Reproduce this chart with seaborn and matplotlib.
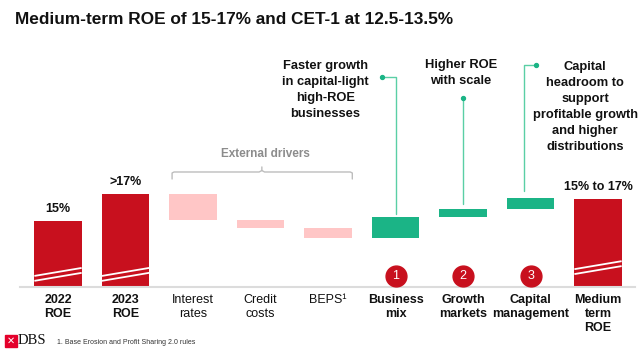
import numpy as np
import pandas as pd
import matplotlib
matplotlib.use('Agg')
import matplotlib.pyplot as plt
import seaborn as sns
from matplotlib.patches import Rectangle

# Chart data (ROE, %)
categories = ["2022\nROE", "2023\nROE", "Interest\nrates", "Credit\ncosts", "BEPS¹",
              "Business\nmix", "Growth\nmarkets", "Capital\nmanagement", "Medium\nterm\nROE"]
roe_2022 = 15.0
roe_2023 = 17.2
driver_changes = [-2.1, -0.65, -0.85, 1.7, 0.65, 0.9]
medium_term_roe = 16.8
axis_floor = 9.63  # broken axis: bars start here
value_labels = ["15%", ">17%", "15% to 17%"]
bold_labels = [True, True, False, False, False, True, True, True, True]

RED = "#C8101E"
PINK = "#FFC6C6"
GREEN = "#1BB486"
LINE_GREEN = "#5ACFA5"

# waterfall geometry
levels = np.concatenate([[roe_2023], roe_2023 + np.cumsum(driver_changes)])
bottoms = [axis_floor, axis_floor]
heights = [roe_2022 - axis_floor, roe_2023 - axis_floor]
for i, d in enumerate(driver_changes):
    lo = min(levels[i], levels[i + 1])
    bottoms.append(lo)
    heights.append(abs(d))
bottoms.append(axis_floor)
heights.append(medium_term_roe - axis_floor)
colors = [RED, RED] + [PINK] * 3 + [GREEN] * 3 + [RED]

df = pd.DataFrame({"step": categories, "height": heights})

sns.set_theme(style="white")
plt.rcParams['font.family'] = ['Liberation Sans', 'DejaVu Sans']

fig = plt.figure(figsize=(6.4, 3.54), dpi=100)
ax = fig.add_axes([20 / 640, 67 / 354, 615 / 640, 247 / 354])

sns.barplot(data=df, x="step", y="height", bottom=bottoms, width=0.7,
            errorbar=None, color=RED, ax=ax, order=categories)
for patch, c in zip(ax.patches, colors):
    patch.set_facecolor(c)
    patch.set_edgecolor("none")

ax.set_xlim(-0.563, 8.548)
ax.set_ylim(axis_floor, 29.71)
ax.set_yticks([])
ax.set_xlabel("")
ax.set_ylabel("")
for s in ["top", "right", "left"]:
    ax.spines[s].set_visible(False)
ax.spines["bottom"].set_color("#dcdcdc")
ax.spines["bottom"].set_linewidth(1.5)
ax.tick_params(axis="x", length=0, pad=5)
ax.set_xticks(range(len(categories)))
ax.set_xticklabels(categories, fontsize=9, color="#111111", linespacing=1.2, va="top")
for lab, b in zip(ax.get_xticklabels(), bold_labels):
    lab.set_fontweight("bold" if b else "normal")

# break marks on full bars
for i, off in [(0, 0.0), (1, 0.0), (8, 0.55)]:
    xs = [i - 0.35, i + 0.35]
    ax.plot(xs, [axis_floor + 0.9 + off, axis_floor + 1.55 + off], color="white", lw=1.3,
            solid_capstyle="butt")
    ax.plot(xs, [axis_floor + 0.5 + off, axis_floor + 1.15 + off], color="white", lw=1.3,
            solid_capstyle="butt")

# value labels
tops = [roe_2022, roe_2023, medium_term_roe]
for i, t, lab in zip([0, 1, 8], tops, value_labels):
    ax.text(i, t + 1.0, lab, ha="center", va="center", fontsize=9, fontweight="bold",
            color="#111111")

# numbered circles
for n, i in enumerate([5, 6, 7], start=1):
    ax.scatter([i], [10.52], s=225, color=RED, zorder=3, clip_on=False)
    ax.text(i, 10.52, str(n), ha="center", va="center", color="white", fontsize=9,
            zorder=4)

# external drivers bracket
gray = "#bdbdbd"
ax.plot([1.69, 1.69, 1.72, 2.98, 3.02, 3.02], [18.41, 18.90, 18.98, 18.98, 19.1, 19.39],
        color=gray, lw=1, clip_on=False)
ax.plot([3.02, 3.06, 4.33, 4.36, 4.36], [19.1, 18.98, 18.98, 18.90, 18.41],
        color=gray, lw=1, clip_on=False)
ax.text(3.07, 20.44, "External drivers", ha="center", va="center", fontsize=8.5,
        fontweight="bold", color="#8c8c8c")

# green call-outs
biz_top, growth_top, cap_top = levels[4], levels[5], levels[6]
ax.plot([4.8, 5, 5], [26.70, 26.70, biz_top + 0.3], color=LINE_GREEN, lw=1, clip_on=False)
ax.scatter([4.8], [26.70], s=8, color=GREEN, zorder=3, clip_on=False)
ax.text(3.96, 25.65, "Faster growth\nin capital-light\nhigh-ROE\nbusinesses",
        ha="center", va="center", fontsize=9.3, fontweight="bold", color="#111111",
        linespacing=1.45)

ax.plot([6, 6], [24.99, growth_top + 0.45], color=LINE_GREEN, lw=1, clip_on=False)
ax.scatter([6], [24.99], s=8, color=GREEN, zorder=3, clip_on=False)
ax.text(5.97, 26.99, "Higher ROE\nwith scale", ha="center", va="center", fontsize=9.3,
        fontweight="bold", color="#111111", linespacing=1.45)

ax.plot([7.08, 6.9, 6.9], [27.68, 27.68, cap_top + 0.55], color=LINE_GREEN, lw=1,
        clip_on=False)
ax.scatter([7.08], [27.68], s=8, color=GREEN, zorder=3, clip_on=False)
ax.text(7.81, 24.26, "Capital\nheadroom to\nsupport\nprofitable growth\nand higher\ndistributions",
        ha="center", va="center", fontsize=9.3, fontweight="bold", color="#111111",
        linespacing=1.45)

# title
fig.text(15 / 640, 1 - 20 / 354, "Medium-term ROE of 15-17% and CET-1 at 12.5-13.5%",
         ha="left", va="center", fontsize=12.4, fontweight="bold", color="#111111")

# footer: logo + footnote
fig.add_artist(Rectangle((5 / 640, 1 - 347 / 354), 12 / 640, 12 / 354,
                         transform=fig.transFigure, color="#E4002B"))
fig.text(11 / 640, 1 - 341 / 354, "✕", ha="center", va="center", fontsize=7,
         color="white", fontweight="bold", family=["DejaVu Sans"])
fig.text(18 / 640, 1 - 341 / 354, "DBS", ha="left", va="center", fontsize=10.5,
         family=["Liberation Serif"], color="#111111")
fig.text(57 / 640, 1 - 342 / 354, "1. Base Erosion and Profit Sharing 2.0 rules",
         ha="left", va="center", fontsize=5, color="#333333")

fig.savefig("out.png", dpi=100)
plt.close(fig)
